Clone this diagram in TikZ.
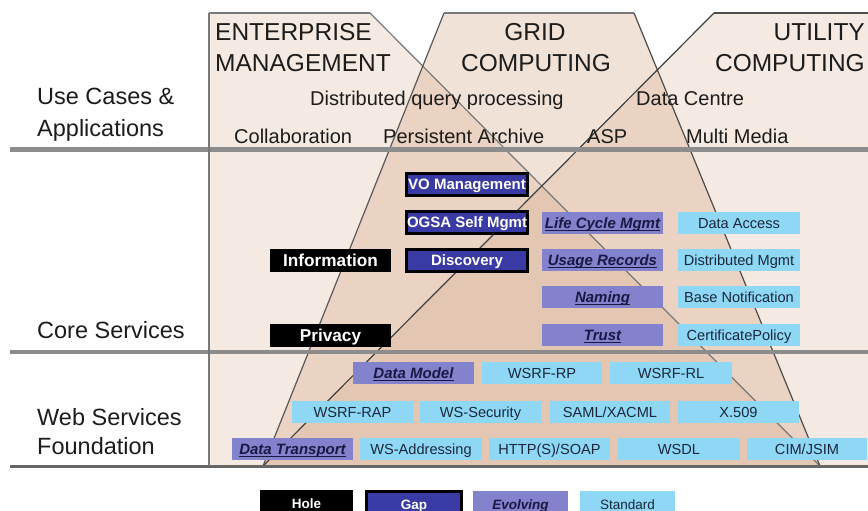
\documentclass[tikz,border=0pt]{standalone}
\usepackage{fontspec}
\setmainfont{Liberation Sans}

\definecolor{domaintan}{RGB}{210,160,124}
\definecolor{gapblue}{RGB}{58,58,165}
\definecolor{evolve}{RGB}{130,130,205}
\definecolor{stdblue}{RGB}{142,215,245}
\definecolor{ink}{RGB}{28,28,28}
\definecolor{navy}{RGB}{25,25,68}
\definecolor{slate}{RGB}{28,40,58}
\definecolor{bargray}{RGB}{140,140,140}
\definecolor{edgegray}{RGB}{120,120,120}

% underline at a fixed depth below the baseline
\newcommand\evul[1]{\setbox0\hbox{#1}\rlap{\rule[-2.6pt]{\wd0}{1.2pt}}\box0}

\tikzset{
  head/.style={font=\fontsize{24.5}{28}\selectfont, text=ink, inner sep=0pt},
  layer/.style={font=\fontsize{23.5}{28}\selectfont, text=ink, inner sep=0pt, anchor=base west},
  usecase/.style={font=\fontsize{20}{24}\selectfont, text=ink, inner sep=0pt, anchor=base west},
  tile/.style={inner sep=0pt, minimum height=22pt, text depth=0pt},
  hole/.style={tile, fill=black, text=white, text height=12.2pt,
    font=\fontsize{17.2}{19}\selectfont\bfseries},
  gap/.style={tile, fill=gapblue, draw=black, line width=3pt, text=white, text height=10.8pt,
    font=\fontsize{15}{18}\selectfont\bfseries},
  evolving/.style={tile, fill=evolve, text=navy, text height=10.8pt,
    font=\fontsize{15}{18}\selectfont\bfseries\itshape},
  standard/.style={tile, fill=stdblue, text=slate, text height=10.4pt,
    font=\fontsize{14.6}{18}\selectfont},
  keyhole/.style={hole, anchor=north, minimum height=26pt, text height=10pt,
    font=\fontsize{13.5}{16}\selectfont\bfseries},
  keygap/.style={gap, anchor=north, minimum height=26pt, text height=10pt,
    font=\fontsize{13.5}{16}\selectfont\bfseries},
  keyevolving/.style={evolving, anchor=north, minimum height=26pt, text height=10pt,
    font=\fontsize{13.5}{16}\selectfont\bfseries\itshape},
  keystandard/.style={standard, anchor=north, minimum height=26pt, text height=10pt,
    font=\fontsize{13.5}{16}\selectfont},
}

\begin{document}
\begin{tikzpicture}[x=1pt,y=-1pt]
\useasboundingbox (0,0) rectangle (868,511);
\clip (0,0) rectangle (868,511);
\fill[white] (0,0) rectangle (868,511);

% the three overlapping domains
\fill[domaintan, opacity=0.22] (209,13) -- (370,13) -- (820,466) -- (209,466) -- cycle;
\fill[domaintan, opacity=0.30] (444,13) -- (634,13) -- (820,466) -- (263,466) -- cycle;
\fill[domaintan, opacity=0.22] (714,13) -- (868,13) -- (868,466) -- (263,466) -- cycle;

% domain outlines
\draw[edgegray, line width=1.6pt] (209,13) -- (370,13);
\draw[edgegray, line width=1.2pt] (370,13) -- (820,466);
\draw[edgegray, line width=1.6pt] (444,13) -- (634,13);
\draw[black!65, line width=1.2pt] (444,13) -- (263,466);
\draw[black!70, line width=1.2pt] (634,13) -- (820,466);
\draw[black!70, line width=1.6pt] (714,13) -- (868,13);
\draw[black!75, line width=1.2pt] (714,13) -- (263,466);

% layer separators
\draw[bargray, line width=4.5pt] (10,149.5) -- (868,149.5);
\draw[bargray, line width=4.5pt] (10,352) -- (868,352);
\draw[black!60, line width=3pt] (10,466) -- (868,466);
\draw[edgegray, line width=2pt] (209,13) -- (209,466);

% domain titles
\node[head, anchor=base west] (ent1) at (215,41) {ENTERPRISE};
\node[head, anchor=base west] (ent2) at (215,71) {MANAGEMENT};
\node[head, anchor=base] (grid1) at (535,41) {GRID};
\node[head, anchor=base] (grid2) at (536,71) {COMPUTING};
\node[head, anchor=base east] (util1) at (865,41) {UTILITY};
\node[head, anchor=base east] (util2) at (865,71) {COMPUTING};

% layer names
\node[layer] (uc1) at (37,104) {Use Cases \&};
\node[layer] (uc2) at (37,136) {Applications};
\node[layer] (core) at (37,338) {Core Services};
\node[layer] (ws1) at (37,425) {Web Services};
\node[layer] (ws2) at (37,454) {Foundation};

% use cases
\node[usecase] (dqp) at (310,105.5) {Distributed query processing};
\node[usecase] (dc) at (636,105.5) {Data Centre};
\node[usecase] (collab) at (234,143.5) {Collaboration};
\node[usecase] (parch) at (383,143.5) {Persistent Archive};
\node[usecase] (asp) at (587,143.5) {ASP};
\node[usecase] (mm) at (686,143.5) {Multi Media};

% core services
\node[gap, minimum width=121pt] (vom) at (467,184.5) {VO Management};
\node[gap, minimum width=121pt] (ogsa) at (467,222.5) {OGSA Self Mgmt};
\node[gap, minimum width=121pt] (disc) at (467,260.5) {Discovery};
\node[hole, minimum width=121pt, minimum height=23pt] (info) at (330.5,260.5) {Information};
\node[hole, minimum width=121pt, minimum height=23pt] (priv) at (330.5,335.5) {Privacy};
\node[evolving, minimum width=121pt] (lcm) at (602.5,223) {\evul{Life Cycle Mgmt}};
\node[evolving, minimum width=121pt] (usage) at (602.5,260) {\evul{Usage Records}};
\node[evolving, minimum width=121pt] (naming) at (602.5,297) {\evul{Naming}};
\node[evolving, minimum width=121pt] (trust) at (602.5,335) {\evul{Trust}};
\node[standard, minimum width=122pt] (dacc) at (739,223) {Data Access};
\node[standard, minimum width=122pt] (dmgmt) at (739,260) {Distributed Mgmt};
\node[standard, minimum width=122pt] (bnot) at (739,297) {Base Notification};
\node[standard, minimum width=122pt] (cpol) at (739,335) {CertificatePolicy};

% web services foundation
\node[evolving, minimum width=121pt] (dmodel) at (413.5,373) {\evul{Data Model}};
\node[standard, minimum width=120pt] (wsrfrp) at (542,373) {WSRF-RP};
\node[standard, minimum width=122pt] (wsrfrl) at (671,373) {WSRF-RL};
\node[standard, minimum width=121pt] (wsrfrap) at (352.5,412) {WSRF-RAP};
\node[standard, minimum width=121pt] (wssec) at (480.5,412) {WS-Security};
\node[standard, minimum width=120pt] (saml) at (610,412) {SAML/XACML};
\node[standard, minimum width=121pt] (x509) at (738.5,412) {X.509};
\node[evolving, minimum width=121pt] (dtrans) at (292.5,449) {\evul{Data Transport}};
\node[standard, minimum width=122pt] (wsaddr) at (421,449) {WS-Addressing};
\node[standard, minimum width=121pt] (http) at (549.5,449) {HTTP(S)/SOAP};
\node[standard, minimum width=122pt] (wsdl) at (679,449) {WSDL};
\node[standard, minimum width=120pt] (cim) at (807,449) {CIM/JSIM};

% key
\node[keyhole, minimum width=93pt] (khole) at (306.5,490) {Hole};
\node[keygap, minimum width=95pt] (kgap) at (414,489.5) {Gap};
\node[keyevolving, minimum width=95pt] (kevol) at (520.5,491) {\evul{Evolving}};
\node[keystandard, minimum width=95pt] (kstd) at (627.5,491) {Standard};
\end{tikzpicture}
\end{document}
